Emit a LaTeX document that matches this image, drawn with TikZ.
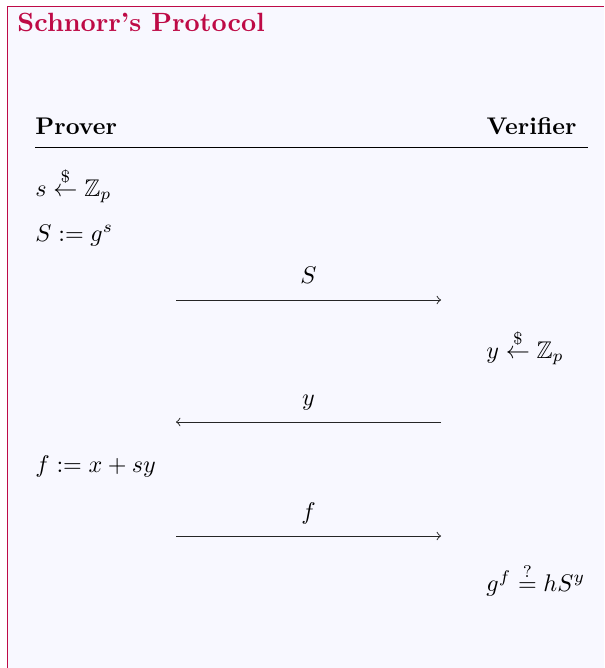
\documentclass[tikz,border=0pt]{standalone}
\usepackage{amsmath,amssymb}
\definecolor{framered}{RGB}{190,10,70}
\definecolor{bglav}{RGB}{248,248,255}
\begin{document}
\begin{tikzpicture}[x=0.415pt,y=-0.415pt,
  lbl/.style={anchor=base west,inner sep=0pt,font=\normalsize},
  clbl/.style={anchor=base,inner sep=0pt},
  msg/.style={->,line width=0.4pt,black!85}]
\useasboundingbox (0,0) rectangle (604,668);
\fill[white] (0,0) rectangle (604,668);
\fill[bglav] (7,6) rectangle (604,668);
\draw[framered,line width=0.8pt] (7.5,668) -- (7.5,6.5) -- (604,6.5);
\node[lbl,text=framered,font=\fontsize{10.95}{13.6}\selectfont\bfseries] (title) at (17,32) {Schnorr's Protocol};
\node[lbl,font=\bfseries] (prover) at (35,134) {Prover};
\node[anchor=base east,inner sep=0pt,font=\bfseries] (verifier) at (577,134) {Verifier};
\coordinate (rl) at (35,147);
\coordinate (rr) at (588,147);
\draw[line width=0.4pt] (rl) -- (rr);
\node[lbl] (p1) at (35,196) {$s \overset{\$}{\leftarrow} \mathbb{Z}_p$};
\node[lbl] (p2) at (35,241) {$S := g^s$};
% message 1
\coordinate (a1l) at (176,300);
\coordinate (a1r) at (441,300);
\draw[msg] (a1l) -- (a1r);
\node[clbl] (m1) at (308.5,283) {$S$};
\node[lbl] (v1) at (486,358) {$y \overset{\$}{\leftarrow} \mathbb{Z}_p$};
% message 2
\coordinate (a2l) at (176,422);
\coordinate (a2r) at (441,422);
\draw[msg] (a2r) -- (a2l);
\node[clbl] (m2) at (308.5,405) {$y$};
\node[lbl] (p3) at (35,472) {$f := x + sy$};
% message 3
\coordinate (a3l) at (176,536);
\coordinate (a3r) at (441,536);
\draw[msg] (a3l) -- (a3r);
\node[clbl] (m3) at (308.5,519) {$f$};
\node[lbl] (v2) at (486,591) {$g^f \overset{?}{=} hS^y$};
\end{tikzpicture}
\end{document}
